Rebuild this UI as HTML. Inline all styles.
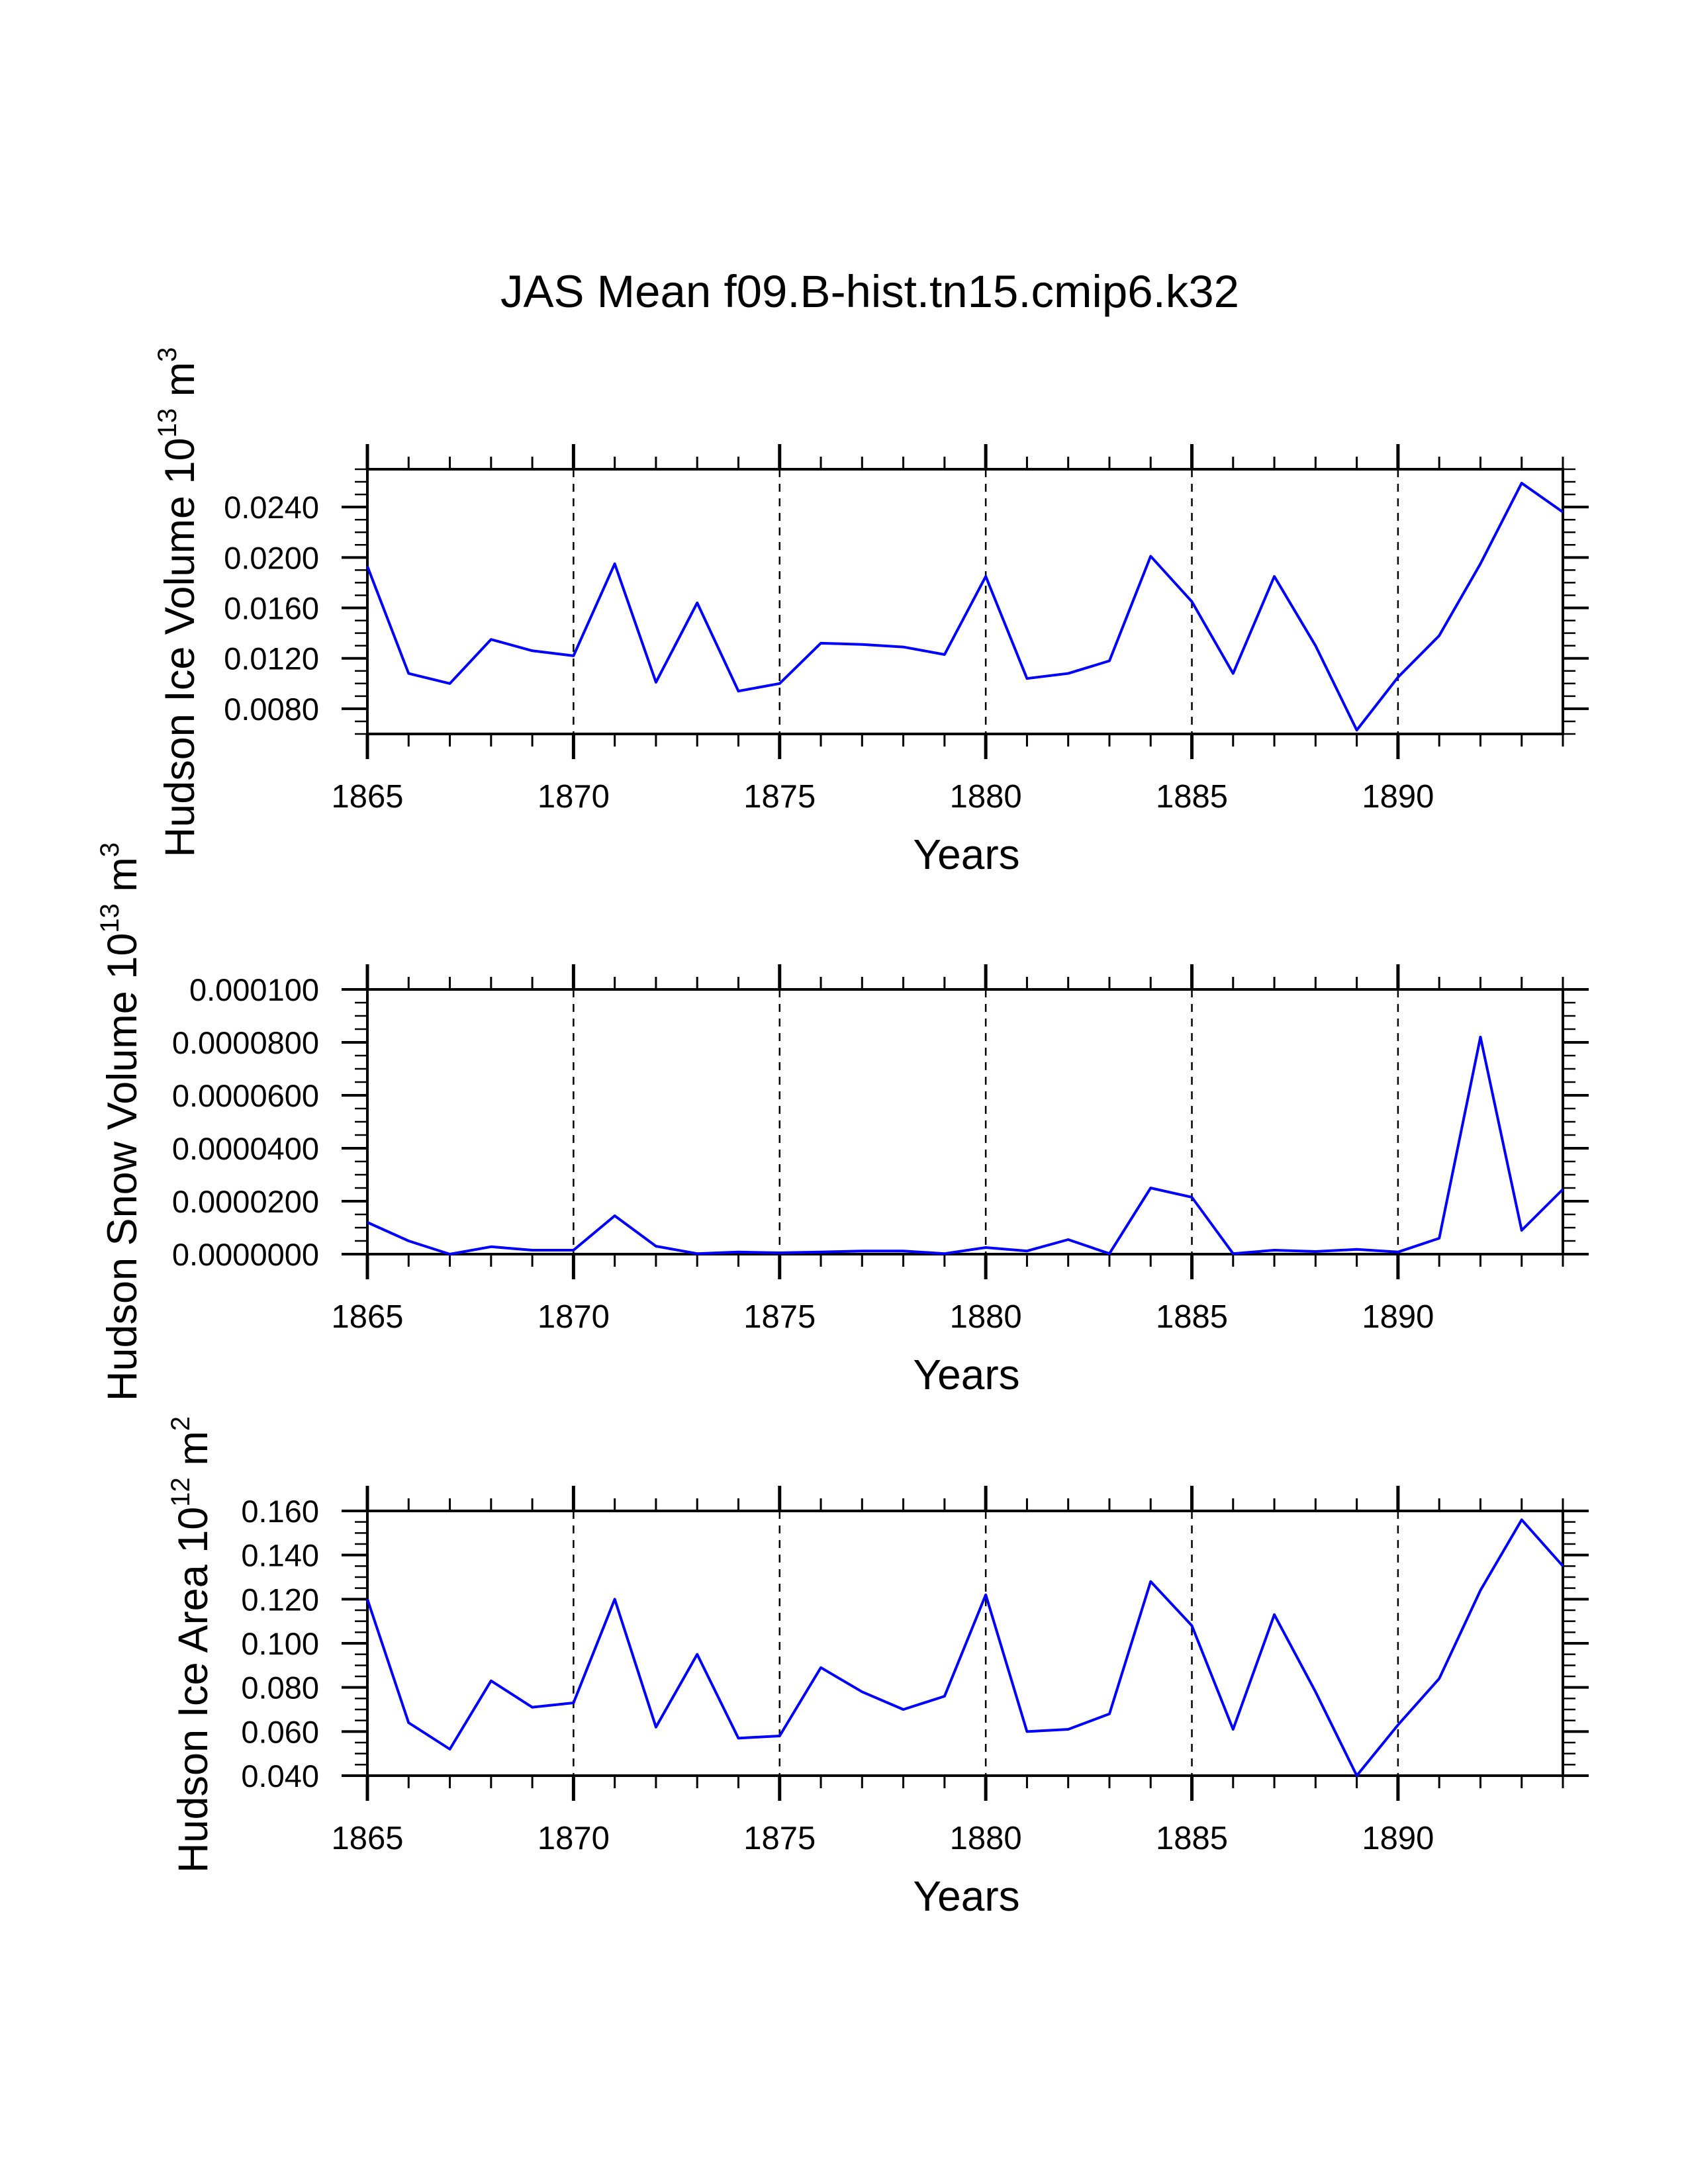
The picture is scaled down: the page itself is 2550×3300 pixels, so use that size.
<!DOCTYPE html>
<html><head><meta charset="utf-8"><style>
body{margin:0;background:#fff}
svg{display:block;font-family:"Liberation Sans",sans-serif}
</style></head><body>
<svg id="chart" width="2550" height="3300" viewBox="0 0 2550 3300" xmlns="http://www.w3.org/2000/svg">
<text x="1314" y="464" font-size="69" text-anchor="middle">JAS Mean f09.B-hist.tn15.cmip6.k32</text>
</svg>
<script>
const years = [1865,1866,1867,1868,1869,1870,1871,1872,1873,1874,1875,1876,1877,1878,1879,1880,1881,1882,1883,1884,1885,1886,1887,1888,1889,1890,1891,1892,1893,1894];
const iceVolume = [0.0193,0.0108,0.0100,0.0135,0.0126,0.0122,0.0195,0.0101,0.0164,0.0094,0.0100,0.0132,0.0131,0.0129,0.0123,0.0185,0.0104,0.0108,0.0118,0.0201,0.0165,0.0108,0.0185,0.0130,0.0063,0.0105,0.0138,0.0195,0.0259,0.0236];
const snowVolume = [0.0000120,0.0000050,0.0000000,0.0000028,0.0000015,0.0000015,0.0000145,0.0000030,0.0000002,0.0000008,0.0000005,0.0000008,0.0000012,0.0000012,0.0000002,0.0000025,0.0000012,0.0000055,0.0000002,0.0000250,0.0000215,0.0000002,0.0000015,0.0000010,0.0000018,0.0000008,0.0000060,0.0000820,0.0000090,0.0000245];
const iceArea = [0.120,0.064,0.052,0.083,0.071,0.073,0.120,0.062,0.095,0.057,0.058,0.089,0.078,0.070,0.076,0.122,0.060,0.061,0.068,0.128,0.108,0.061,0.113,0.078,0.040,0.063,0.084,0.124,0.156,0.135];
const xTickLabels = ["1865","1870","1875","1880","1885","1890"];
const iceVolTicks = ["0.0080","0.0120","0.0160","0.0200","0.0240"];
const snowTicks = ["0.0000000","0.0000200","0.0000400","0.0000600","0.0000800","0.000100"];
const areaTicks = ["0.040","0.060","0.080","0.100","0.120","0.140","0.160"];

const NS="http://www.w3.org/2000/svg";
const svg=document.getElementById('chart');
const L=555,R=2361,H=400;
function mk(tag,attrs,parent){const e=document.createElementNS(NS,tag);for(const k in attrs)e.setAttribute(k,attrs[k]);(parent||svg).appendChild(e);return e;}
function xs(yr){return L+(yr-1865)*(R-L)/29;}

const panels=[
 {name:'ice-volume',top:709,ymin:0.006,ymax:0.027,major:0.004,first:0.008,ticks:iceVolTicks,data:iceVolume,title:'Hudson Ice Volume 10',sup:'13',unit:' m',usup:'3',tx:293,ty:910},
 {name:'snow-volume',top:1495,ymin:0,ymax:0.0001,major:0.00002,first:0,ticks:snowTicks,data:snowVolume,title:'Hudson Snow Volume 10',sup:'13',unit:' m',usup:'3',tx:206,ty:1695},
 {name:'ice-area',top:2283,ymin:0.04,ymax:0.16,major:0.02,first:0.04,ticks:areaTicks,data:iceArea,title:'Hudson Ice Area 10',sup:'12',unit:' m',usup:'2',tx:313,ty:2485}
];
panels.forEach(p=>{
 const g=mk('g',{});
 
 
 const T=p.top,B=p.top+H;
 const ys=v=>B-(v-p.ymin)/(p.ymax-p.ymin)*H;
 for(let yr=1870;yr<=1890;yr+=5){
  const l=mk('line',{x1:xs(yr),x2:xs(yr),y1:T,y2:B,stroke:'#000','stroke-width':2.5,'stroke-dasharray':'12,10'},g);
  
  
 }
 for(let yr=1865;yr<=1894;yr++){
  const maj=(yr-1865)%5===0, len=maj?38:19, w=maj?5:3;
  mk('line',{x1:xs(yr),x2:xs(yr),y1:T-len,y2:T,stroke:'#000','stroke-width':w},g);
  mk('line',{x1:xs(yr),x2:xs(yr),y1:B,y2:B+len,stroke:'#000','stroke-width':w},g);
 }
 xTickLabels.forEach((s,i)=>{
  const t=mk('text',{x:xs(1865+5*i),y:B+111,'font-size':49,'text-anchor':'middle'},g);
  t.textContent=s;
  
  
 });
 const minor=p.major/4;
 const n=Math.round((p.ymax-p.ymin)/minor);
 const off=Math.round((p.first-p.ymin)/minor);
 for(let i=0;i<=n;i++){
  const v=p.ymin+i*minor, y=ys(v);
  const maj=((i-off)%4+4)%4===0, len=maj?39:19, w=maj?4:2.5;
  mk('line',{x1:L-len,x2:L,y1:y,y2:y,stroke:'#000','stroke-width':w},g);
  mk('line',{x1:R,x2:R+len,y1:y,y2:y,stroke:'#000','stroke-width':w},g);
 }
 p.ticks.forEach((s,i)=>{
  const t=mk('text',{x:482,y:ys(p.first+i*p.major)+17,'font-size':47,'text-anchor':'end'},g);
  t.textContent=s;
  
  
 });
 const f=mk('rect',{x:L,y:T,width:R-L,height:H,fill:'none',stroke:'#000','stroke-width':4},g);
 
 
 const pts=years.map((yr,i)=>xs(yr)+','+ys(p.data[i])).join(' ');
 const pl=mk('polyline',{points:pts,fill:'none',stroke:'#0000ff','stroke-width':4,'stroke-linejoin':'round'},g);
 
 
 const xt=mk('text',{x:1460,y:B+204,'font-size':64,'text-anchor':'middle'},g);
 xt.textContent='Years';
 
 
 const yt=mk('text',{x:0,y:0,'font-size':63,'text-anchor':'middle',transform:`translate(${p.tx},${p.ty}) rotate(-90)`},g);
 
 
 const a=mk('tspan',{},yt);a.textContent=p.title;
 const b=mk('tspan',{dy:-27,'font-size':40},yt);b.textContent=p.sup;
 const c=mk('tspan',{dy:27},yt);c.textContent=p.unit;
 const d=mk('tspan',{dy:-27,'font-size':40},yt);d.textContent=p.usup;
});
</script>
</body></html>
